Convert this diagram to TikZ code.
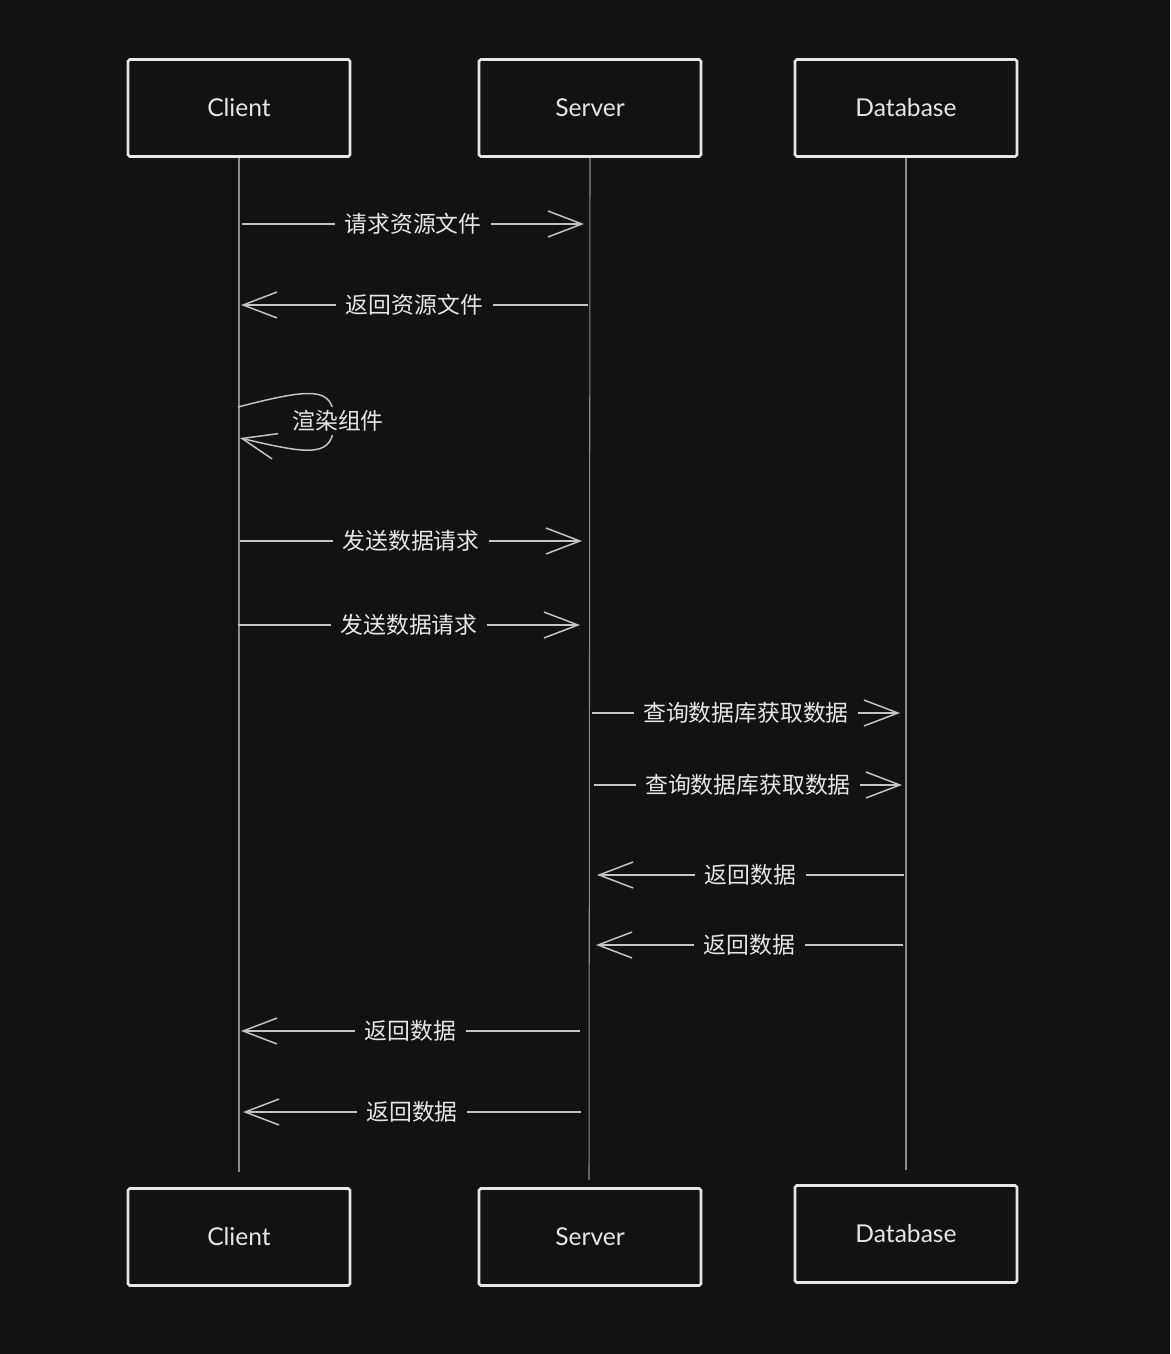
\documentclass[tikz,border=0pt]{standalone}
\usepackage{fontspec}
\setmainfont{Lato}
\newfontfamily\cjk{Noto Sans CJK SC}
\usetikzlibrary{arrows.meta}
\definecolor{bgcol}{HTML}{121212}
\definecolor{inkcol}{HTML}{E6E6E6}
\definecolor{msgcol}{HTML}{C4C4C4}
\definecolor{lifecol}{HTML}{8C8C8C}
\tikzset{
  actor/.style={draw=inkcol, line width=1.5pt, rounded corners=1pt, fill=bgcol,
    minimum width=4.44cm, minimum height=1.94cm, text=inkcol,
    font=\fontsize{14pt}{16pt}\selectfont},
  life/.style={draw=lifecol, line width=0.6pt},
  msg/.style={draw=msgcol, line width=0.85pt,
    -{Straight Barb[length=0.68cm,width=0.52cm,line width=0.85pt]}},
  lbl/.style={fill=bgcol, text=inkcol, inner xsep=5.5pt, inner ysep=2pt,
    font=\cjk\fontsize{13pt}{15pt}\selectfont}
}
\begin{document}
\begin{tikzpicture}[x=0.02cm, y=-0.02cm]
\fill[bgcol] (0,0) rectangle (1170,1354);

\node[actor] (cTop) at (239,108) {Client};
\node[actor] (sTop) at (590,108) {Server};
\node[actor] (dTop) at (906,108) {Database};

\node[actor] (cBot) at (239,1237) {Client};
\node[actor] (sBot) at (590,1237) {Server};
\node[actor] (dBot) at (906,1234) {Database};

\coordinate (cEnd) at (239,1172);
\coordinate (sEnd) at (589,1180);
\coordinate (dEnd) at (906,1170);

\draw[life] (cTop.south) -- (cEnd);
\draw[life] (sTop.south) -- (sEnd);
\draw[life] (dTop.south) -- (dEnd);

% client <-> server
\coordinate (c1) at (242,224);  \coordinate (s1) at (584,224);
\coordinate (s2) at (588,305);  \coordinate (c2) at (241,305);
\coordinate (c4) at (240,541);  \coordinate (s4) at (582,541);
\coordinate (c5) at (238,625);  \coordinate (s5) at (580,625);

\draw[msg] (c1) -- node[lbl] (m1) {请求资源文件} (s1);
\draw[msg] (s2) -- node[lbl] (m2) {返回资源文件} (c2);

% self call
\coordinate (r1) at (238,407);  \coordinate (r2) at (240,438);
\draw[msg] (r1) .. controls (312,388) and (334,386) .. (334,421)
  .. controls (334,458) and (312,455) .. (r2);
\node[lbl] (render) at (338,421) {渲染组件};

\draw[msg] (c4) -- node[lbl] (m4) {发送数据请求} (s4);
\draw[msg] (c5) -- node[lbl] (m5) {发送数据请求} (s5);

% server <-> database
\coordinate (s6) at (592,713);  \coordinate (d6) at (900,713);
\coordinate (s7) at (594,785);  \coordinate (d7) at (902,785);
\coordinate (d8) at (904,875);  \coordinate (s8) at (597,875);
\coordinate (d9) at (903,945);  \coordinate (s9) at (596,945);

\draw[msg] (s6) -- node[lbl] (m6) {查询数据库获取数据} (d6);
\draw[msg] (s7) -- node[lbl] (m7) {查询数据库获取数据} (d7);
\draw[msg] (d8) -- node[lbl] (m8) {返回数据} (s8);
\draw[msg] (d9) -- node[lbl] (m9) {返回数据} (s9);

% back to client
\coordinate (s10) at (580,1031); \coordinate (c10) at (241,1031);
\coordinate (s11) at (581,1112); \coordinate (c11) at (243,1112);

\draw[msg] (s10) -- node[lbl] (m10) {返回数据} (c10);
\draw[msg] (s11) -- node[lbl] (m11) {返回数据} (c11);
\end{tikzpicture}
\end{document}
